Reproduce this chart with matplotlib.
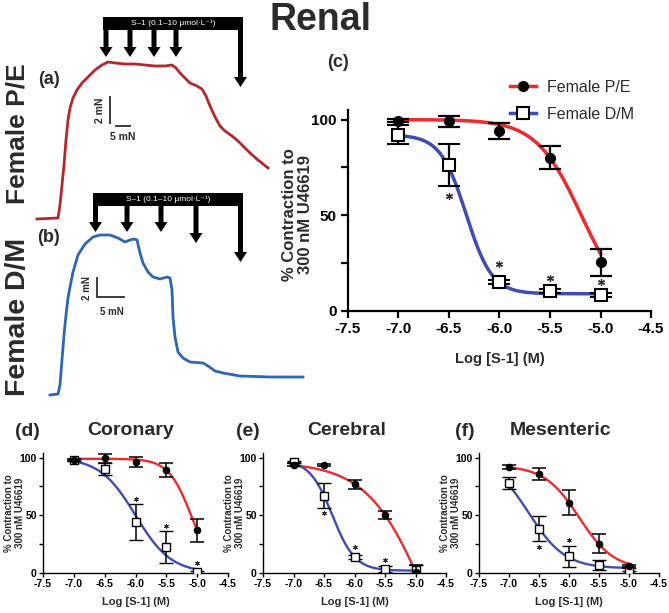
import numpy as np
import matplotlib.pyplot as plt
from matplotlib.lines import Line2D
from matplotlib.patches import Rectangle, Polygon

plt.rcParams['font.family'] = ['Liberation Sans', 'DejaVu Sans']

W, H = 669, 613
RED, BLUE = '#ee2a2e', '#3f4cb2'
TR_RED, TR_BLUE = '#b3282d', '#2f66b2'
INK = '#2b2b2b'

# concentration-response data (mean, SEM)
log_conc = [-7.0, -6.5, -6.0, -5.5, -5.0]
xticks = [-7.5, -7.0, -6.5, -6.0, -5.5, -5.0, -4.5]

renal_pe = [99.5, 99, 94, 80, 25.5]
renal_pe_err = [0.8, 3, 4, 6, 7]
renal_dm = [92, 76.5, 15, 10.5, 8.5]
renal_dm_err = [5, 11, 1, 1, 1]
renal_star_x = [-6.5, -6.0, -5.5, -5.0]
renal_star_y = [60, 24.5, 17.5, 15]

coronary_pe = [98, 99.5, 96, 89, 37]
coronary_pe_err = [1, 4, 4.5, 6, 10]
coronary_dm = [98, 90, 44, 22.5, 0.5]
coronary_dm_err = [1, 5, 15.5, 14, 1]
coronary_star_x = [-6.0, -5.5, -5.0]
coronary_star_y = [64, 41, 9]

cerebral_pe = [94, 93.6, 77, 50.5, 1]
cerebral_pe_err = [1, 0.5, 4, 3.5, 6]
cerebral_dm = [96.5, 67, 14, 3.5, 3]
cerebral_dm_err = [1, 11, 2, 3, 4]
cerebral_star_x = [-6.5, -6.0, -5.5]
cerebral_star_y = [52, 22.7, 11]

mesenteric_pe = [92, 86, 61, 25.5, 6]
mesenteric_pe_err = [2, 5, 11, 8.5, 1]
mesenteric_dm = [78, 38.5, 14.5, 7, 3]
mesenteric_dm_err = [5.5, 11, 9, 4, 1]
mesenteric_star_x = [-6.5, -6.0]
mesenteric_star_y = [22.5, 28.4]

# fitted curves: top, bottom, logIC50, hill slope
renal_pe_fit = (100, 0, -5.19, 1.94)
renal_dm_fit = (92, 9, -6.33, 3.4)
coronary_pe_fit = (99, 0, -5.095, 2.35)
coronary_dm_fit = (100, 0, -6.0, 1.5)
cerebral_pe_fit = (96, -150, -4.77, 0.877)
cerebral_dm_fit = (98, 2, -6.363, 2.33)
mesenteric_pe_fit = (93, 3, -5.83, 1.5)
mesenteric_dm_fit = (100, 4, -6.67, 1.44)

# myograph traces (time, level)
pe_time = [37, 58, 60, 62, 64, 66, 68, 70, 73, 77, 82, 88, 95, 102, 108, 115, 125, 135,
           145, 155, 165, 172, 176, 180, 185, 190, 197, 202, 206, 210, 215, 220, 225,
           232, 238, 242, 250, 258, 268]
pe_level = [219, 218, 205, 185, 165, 140, 120, 108, 98, 90, 83, 77, 70, 65, 62, 63, 64, 64,
            65, 66, 66, 65, 68, 73, 78, 83, 86, 89, 96, 106, 117, 126, 131,
            136, 141, 145, 153, 160, 168]
dm_time = [50, 58, 60, 62, 64, 66, 68, 70, 73, 78, 85, 93, 100, 110, 118, 125, 130, 134,
           137, 140, 143, 148, 153, 160, 167, 170, 172, 173, 175, 178, 183, 190, 203,
           208, 215, 223, 240, 270, 303]
dm_level = [395, 394, 385, 360, 335, 315, 298, 287, 272, 255, 244, 237, 235, 235, 238, 242,
            240, 239, 240, 253, 263, 272, 277, 279, 277, 278, 290, 317, 337, 352, 358,
            362, 363, 366, 371, 373, 376, 377, 377]

pe_arrow_t = [106, 130, 154, 176, 240.5]
pe_arrow_tip = [57, 57, 57, 57, 87]
dm_arrow_t = [95.5, 127, 161, 196, 240.5]
dm_arrow_tip = [232, 232, 232, 243, 262]

fig = plt.figure(figsize=(W / 100, H / 100), dpi=100)


def px_axes(l, t, r, b):
    return fig.add_axes([l / W, 1 - b / H, (r - l) / W, (b - t) / H])


def hill(x, top, bottom, logic50, slope):
    return bottom + (top - bottom) / (1 + 10 ** ((x - logic50) * slope))


# ---- traces (a), (b)
ax_tr = px_axes(0, 0, 310, 410)
ax_tr.set_xlim(0, 310)
ax_tr.set_ylim(410, 0)
ax_tr.axis('off')
ax_tr.plot(pe_time, pe_level, color=TR_RED, lw=2)
ax_tr.plot(dm_time, dm_level, color=TR_BLUE, lw=2)


def additions(ax, left, right, top, bottom, xs, tips):
    ax.add_patch(Rectangle((left, top), right - left, bottom - top, color='black', lw=0))
    for x, tip in zip(xs, tips):
        pts = [(x - 2.5, bottom - 1), (x + 2.5, bottom - 1), (x + 2.5, tip - 10),
               (x + 6.5, tip - 10), (x, tip), (x - 6.5, tip - 10), (x - 2.5, tip - 10)]
        ax.add_patch(Polygon(pts, closed=True, color='black', lw=0))
    ax.text((left + right) / 2, (top + bottom) / 2, 'S–1 (0.1–10 μmol·L⁻¹)',
            color='white', fontsize=6, ha='center', va='center')


additions(ax_tr, 103, 243, 17, 30, pe_arrow_t, pe_arrow_tip)
additions(ax_tr, 93, 243, 193, 206, dm_arrow_t, dm_arrow_tip)

ax_tr.plot([110, 110], [97, 123], color=INK, lw=1.3)
ax_tr.plot([116, 130], [126, 126], color=INK, lw=1.3)
ax_tr.text(100, 110, '2 mN', rotation=90, fontsize=7.5, weight='bold', color=INK,
           ha='center', va='center')
ax_tr.text(123, 137, '5 mN', fontsize=7.5, weight='bold', color=INK, ha='center', va='center')
ax_tr.plot([97, 97, 124], [278, 297, 297], color=INK, lw=1.3)
ax_tr.text(87, 288, '2 mN', rotation=90, fontsize=7, weight='bold', color=INK,
           ha='center', va='center')
ax_tr.text(112, 312, '5 mN', fontsize=7, weight='bold', color=INK, ha='center', va='center')

ax_tr.text(49, 80, '(a)', fontsize=13, weight='bold', color=INK, ha='center', va='center')
ax_tr.text(48, 238, '(b)', fontsize=13, weight='bold', color=INK, ha='center', va='center')
ax_tr.text(18, 134, 'Female P/E', rotation=90, fontsize=19, weight='bold', color=INK,
           ha='center', va='center')
ax_tr.text(18, 317, 'Female D/M', rotation=90, fontsize=20.5, weight='bold', color=INK,
           ha='center', va='center')

fig.text(321 / W, 1 - 30 / H, 'Renal', fontsize=27, weight='bold', color=INK,
         ha='center', va='baseline')


# ---- concentration-response panels
def crc(ax, pe, pe_err, dm, dm_err, pe_fit, dm_fit, sx, sy, big):
    xs = np.linspace(-7, -5, 200)
    lw = 2.5 if big else 1.7
    ax.plot(xs, hill(xs, *pe_fit), color=RED, lw=lw, zorder=2)
    ax.plot(xs, hill(xs, *dm_fit), color=BLUE, lw=lw, zorder=2)
    ms_o, ms_s, cap, elw = (7, 8.5, 8, 1.6) if big else (4.5, 5.2, 5, 1.1)
    ax.errorbar(log_conc, pe, yerr=pe_err, fmt='o', color='black', ms=ms_o,
                capsize=cap, elinewidth=elw, capthick=elw, zorder=4)
    ax.errorbar(log_conc, dm, yerr=dm_err, fmt='s', color='black', mfc='white',
                mec='black', mew=1.5 if big else 1.0, ms=ms_s, capsize=cap,
                elinewidth=elw, capthick=elw, zorder=3)
    ax.plot(sx, sy, ls='none', marker=(6, 2, 0), color=INK,
            ms=5 if big else 3.2, mew=0.9 if big else 0.7)
    ax.set_xlim(-7.5, -4.5)
    ax.set_xticks(xticks)
    ax.set_xticklabels([f'{v:.1f}' for v in xticks])
    ax.set_yticks([0, 50, 100])
    ax.set_yticks([25, 75], minor=True)
    for s in ['top', 'right']:
        ax.spines[s].set_visible(False)
    sw = 1.6 if big else 1.0
    for s in ['left', 'bottom']:
        ax.spines[s].set_linewidth(sw)
    fs = 11 if big else 7.5
    ax.tick_params(which='major', direction='out', length=5 if big else 3, width=sw,
                   labelsize=fs, pad=3 if big else 1.5)
    ax.tick_params(which='minor', direction='out', length=5 if big else 3, width=sw)
    for lab in ax.get_xticklabels() + ax.get_yticklabels():
        lab.set_fontweight('bold')
    ylab = '% Contraction to\n300 nM U46619'
    ax.set_ylabel(ylab, fontsize=12 if big else 7, weight='bold', color=INK,
                  linespacing=1.1)
    ax.set_xlabel('Log [S-1] (M)', fontsize=10.5 if big else 8, weight='bold', color=INK)


ax_c = px_axes(348, 110, 651, 311)
ax_c.set_ylim(0, 105)
crc(ax_c, renal_pe, renal_pe_err, renal_dm, renal_dm_err, renal_pe_fit, renal_dm_fit,
    renal_star_x, renal_star_y, True)
ax_c.yaxis.set_label_coords((313 - 348) / 303, 0.48)
ax_c.xaxis.set_label_coords(0.5, (311 - 352) / 201)
fig.text(338 / W, 1 - 67 / H, '(c)', fontsize=13, weight='bold', color=INK,
         ha='center', va='baseline')

handles = [Line2D([], [], color=RED, lw=2.5, marker='o', ms=7, mfc='black', mec='black'),
           Line2D([], [], color=BLUE, lw=2.5, marker='s', ms=8.5, mfc='white',
                  mec='black', mew=1.5)]
fig.legend(handles, ['Female P/E', 'Female D/M'], loc='upper left',
           bbox_to_anchor=(510 / W, 1 - 80 / H), frameon=False, fontsize=11.5,
           borderpad=0, borderaxespad=0, handlelength=1.6, handletextpad=0.7,
           labelspacing=0.75, labelcolor=INK)

panels = [
    ('(d)', 'Coronary', 43, 228, 27, 131, coronary_pe, coronary_pe_err, coronary_dm,
     coronary_dm_err, coronary_pe_fit, coronary_dm_fit, coronary_star_x, coronary_star_y),
    ('(e)', 'Cerebral', 263, 446, 248, 347, cerebral_pe, cerebral_pe_err, cerebral_dm,
     cerebral_dm_err, cerebral_pe_fit, cerebral_dm_fit, cerebral_star_x, cerebral_star_y),
    ('(f)', 'Mesenteric', 479, 659, 465, 561, mesenteric_pe, mesenteric_pe_err, mesenteric_dm,
     mesenteric_dm_err, mesenteric_pe_fit, mesenteric_dm_fit, mesenteric_star_x,
     mesenteric_star_y),
]
for tag, name, l, r, tag_x, name_x, pe, pe_e, dm, dm_e, pf, df, sx, sy in panels:
    ax = px_axes(l, 453, r, 573)
    ax.set_ylim(0, 104)
    crc(ax, pe, pe_e, dm, dm_e, pf, df, sx, sy, False)
    ax.yaxis.set_label_coords((25 - 43) / (r - l), 0.5)
    ax.xaxis.set_label_coords(0.5, (573 - 597) / 120)
    fig.text(tag_x / W, 1 - 436 / H, tag, fontsize=14, weight='bold', color=INK,
             ha='center', va='baseline')
    fig.text(name_x / W, 1 - 435 / H, name, fontsize=14, weight='bold', color=INK,
             ha='center', va='baseline')

fig.savefig('out.png', dpi=100)
